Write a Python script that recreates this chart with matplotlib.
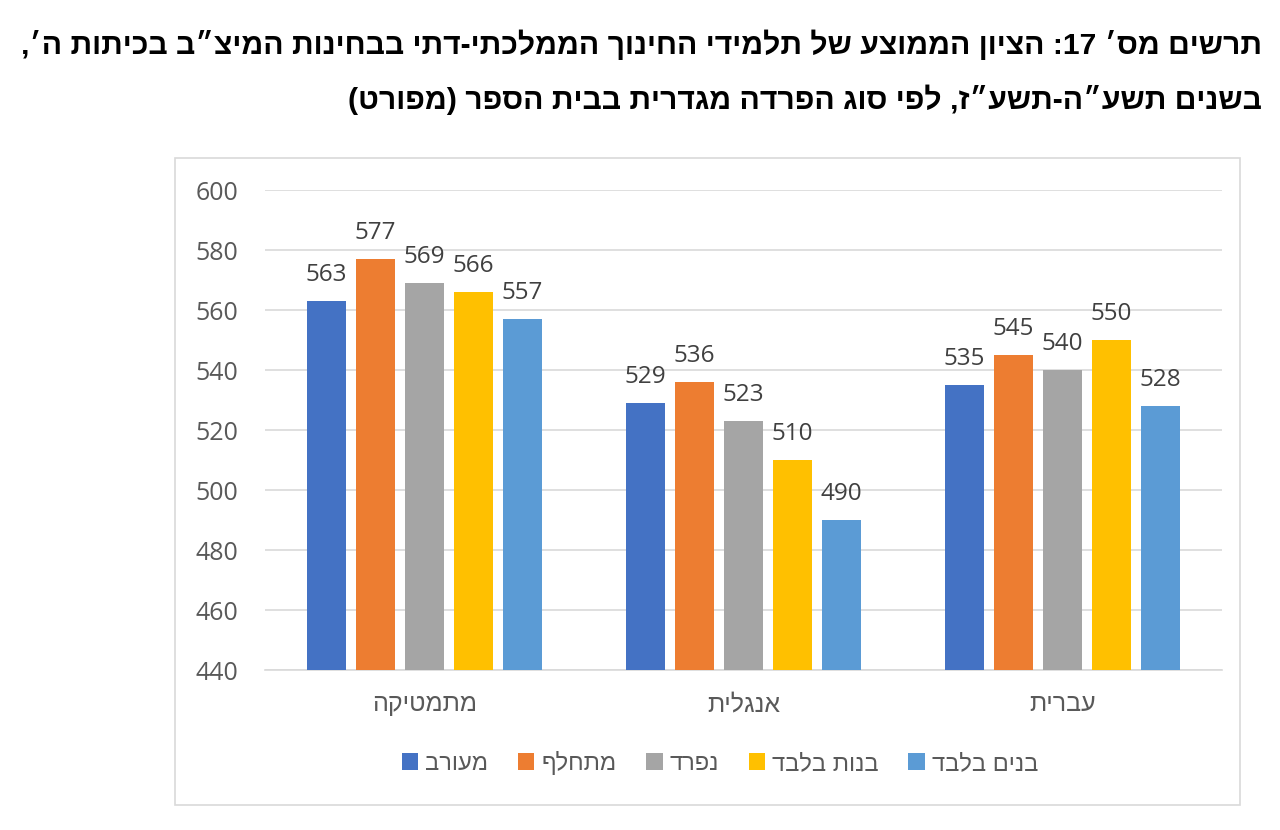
import re
import numpy as np
import matplotlib
matplotlib.use("Agg")
import matplotlib.pyplot as plt
from matplotlib.patches import Rectangle

# ---- data ----
categories = ["מתמטיקה", "אנגלית", "עברית"]
series_names = ["מעורב", "מתחלף", "נפרד", "בנות בלבד", "בנים בלבד"]
values_mixed = [563, 529, 535]
values_alternating = [577, 536, 545]
values_separate = [569, 523, 540]
values_girls = [566, 510, 550]
values_boys = [557, 490, 528]
series_values = [values_mixed, values_alternating, values_separate, values_girls, values_boys]
colors = ["#4472C4", "#ED7D31", "#A5A5A5", "#FFC000", "#5B9BD5"]
y_ticks = [440, 460, 480, 500, 520, 540, 560, 580, 600]
title_line1 = "תרשים מס׳ 17: הציון הממוצע של תלמידי החינוך הממלכתי-דתי בבחינות המיצ״ב בכיתות ה׳,"
title_line2 = "בשנים תשע״ה-תשע״ז, לפי סוג הפרדה מגדרית בבית הספר (מפורט)"


def visual(s):
    """Convert a logical-order RTL string to visual (LTR) order for rendering."""
    tokens = re.findall(r"\d+|.", s)
    tokens.reverse()
    out = "".join(tokens)
    return out.translate(str.maketrans("()", ")("))


HEB = ["Liberation Sans", "DejaVu Sans"]
NUM = ["Open Sans", "DejaVu Sans"]
GRAY = "#595959"

fig = plt.figure(figsize=(12.8, 8.3), dpi=100)
W, H = 1280, 830

# chart border
fig.patches.append(Rectangle((175 / W, 1 - 805 / H), (1240 - 175) / W, (805 - 158) / H,
                             transform=fig.transFigure, fill=False,
                             edgecolor="#D9D9D9", linewidth=1.2))

ax = fig.add_axes([265 / W, 1 - 670 / H, (1222 - 265) / W, (670 - 190) / H])

x = np.arange(len(categories))
step = 0.1536
width = 0.1223
for i, (name, vals, c) in enumerate(zip(series_names, series_values, colors)):
    pos = x + (i - 2) * step
    bars = ax.bar(pos, vals, width=width, color=c, label=visual(name), zorder=3)
    for b, v in zip(bars, vals):
        ax.annotate(f"{v}", (b.get_x() + b.get_width() / 2, v), xytext=(0, 10),
                    textcoords="offset points", ha="center", va="bottom",
                    fontsize=17.5, color="#404040", family=NUM)

ax.set_ylim(440, 600)
ax.set_xlim(-0.5, len(categories) - 0.5)
ax.set_yticks(y_ticks)
ax.set_yticklabels([str(t) for t in y_ticks], fontsize=18, color=GRAY, family=NUM)
ax.set_xticks(x)
ax.set_xticklabels([visual(c) for c in categories], fontsize=18, color=GRAY, family=HEB)
ax.tick_params(axis="y", length=0, pad=19)
ax.tick_params(axis="x", length=0, pad=16)
ax.grid(axis="y", color="#D9D9D9", linewidth=1.2, zorder=0)
for s in ["top", "right", "left"]:
    ax.spines[s].set_visible(False)
ax.spines["bottom"].set_color("#D9D9D9")
ax.spines["bottom"].set_linewidth(1.2)

handles, labels = ax.get_legend_handles_labels()
leg = fig.legend(handles, labels, loc="center", bbox_to_anchor=(720 / W, 1 - 763 / H),
                 ncol=5, frameon=False, handlelength=0.7, handleheight=0.7,
                 handletextpad=0.3, columnspacing=1.25,
                 prop={"family": HEB, "size": 17})
for t in leg.get_texts():
    t.set_color(GRAY)

fig.text(1262 / W, 1 - 45 / H, visual(title_line1), ha="right", va="center",
         fontsize=21.7, fontweight="bold", family=HEB, color="black")
fig.text(1262 / W, 1 - 100 / H, visual(title_line2), ha="right", va="center",
         fontsize=21.7, fontweight="bold", family=HEB, color="black")

fig.savefig("out.png", dpi=100, facecolor="white")
